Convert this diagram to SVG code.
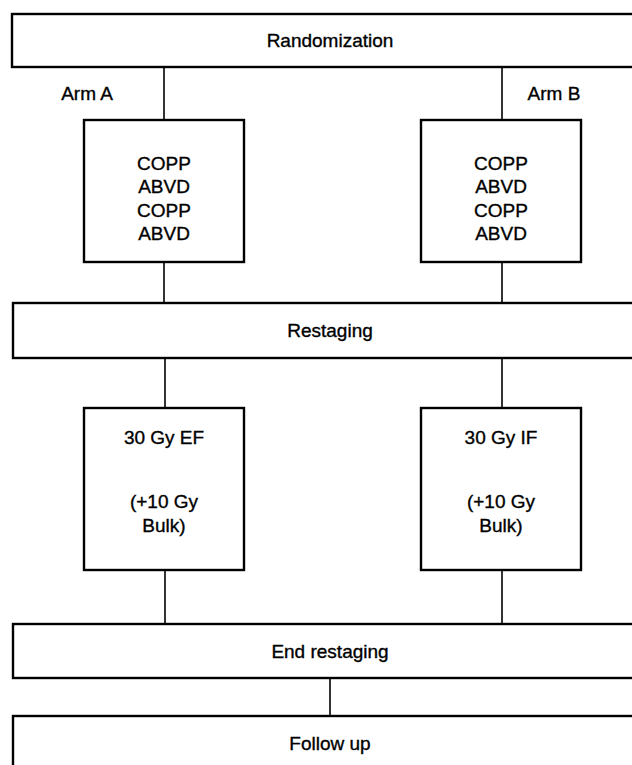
<svg xmlns="http://www.w3.org/2000/svg" width="632" height="765" viewBox="0 0 632 765">
<style>
.box{fill:#fff;stroke:#000;stroke-width:2.4}
.ln{stroke:#000;stroke-width:1.6;fill:none}
text{font-family:"Liberation Sans",Arial,sans-serif;font-size:19px;fill:#000;stroke:#000;stroke-width:0.35;text-anchor:middle}
</style>
<rect width="632" height="765" fill="#fff"/>
<g id="connectors">
<line class="ln" x1="164" y1="67" x2="164" y2="120"/>
<line class="ln" x1="502" y1="67" x2="502" y2="120"/>
<line class="ln" x1="164" y1="262" x2="164" y2="303"/>
<line class="ln" x1="502" y1="262" x2="502" y2="303"/>
<line class="ln" x1="165" y1="358" x2="165" y2="408"/>
<line class="ln" x1="502" y1="358" x2="502" y2="408"/>
<line class="ln" x1="165" y1="570" x2="165" y2="624"/>
<line class="ln" x1="502" y1="570" x2="502" y2="624"/>
<line class="ln" x1="330" y1="678" x2="330" y2="716"/>
</g>
<g id="randomization">
<rect class="box" x="12" y="14" width="650" height="53"/>
<text x="330" y="47">Randomization</text>
</g>
<g id="armA-label"><text x="87" y="100">Arm A</text></g>
<g id="armB-label"><text x="554" y="100">Arm B</text></g>
<g id="chemoA">
<rect class="box" x="84" y="120" width="160" height="142"/>
<text x="164" y="170">COPP</text>
<text x="164" y="193">ABVD</text>
<text x="164" y="217">COPP</text>
<text x="164" y="240">ABVD</text>
</g>
<g id="chemoB">
<rect class="box" x="421" y="120" width="160" height="142"/>
<text x="501" y="170">COPP</text>
<text x="501" y="193">ABVD</text>
<text x="501" y="217">COPP</text>
<text x="501" y="240">ABVD</text>
</g>
<g id="restaging">
<rect class="box" x="13" y="303" width="650" height="55"/>
<text x="330" y="337">Restaging</text>
</g>
<g id="rtA">
<rect class="box" x="84" y="408" width="160" height="162"/>
<text x="164" y="444">30 Gy EF</text>
<text x="164" y="508">(+10 Gy</text>
<text x="164" y="532">Bulk)</text>
</g>
<g id="rtB">
<rect class="box" x="421" y="408" width="160" height="162"/>
<text x="501" y="444">30 Gy IF</text>
<text x="501" y="508">(+10 Gy</text>
<text x="501" y="532">Bulk)</text>
</g>
<g id="end-restaging">
<rect class="box" x="13" y="624" width="650" height="54"/>
<text x="330" y="658">End restaging</text>
</g>
<g id="follow-up">
<rect class="box" x="13" y="716" width="650" height="80"/>
<text x="330" y="750">Follow up</text>
</g>
</svg>
